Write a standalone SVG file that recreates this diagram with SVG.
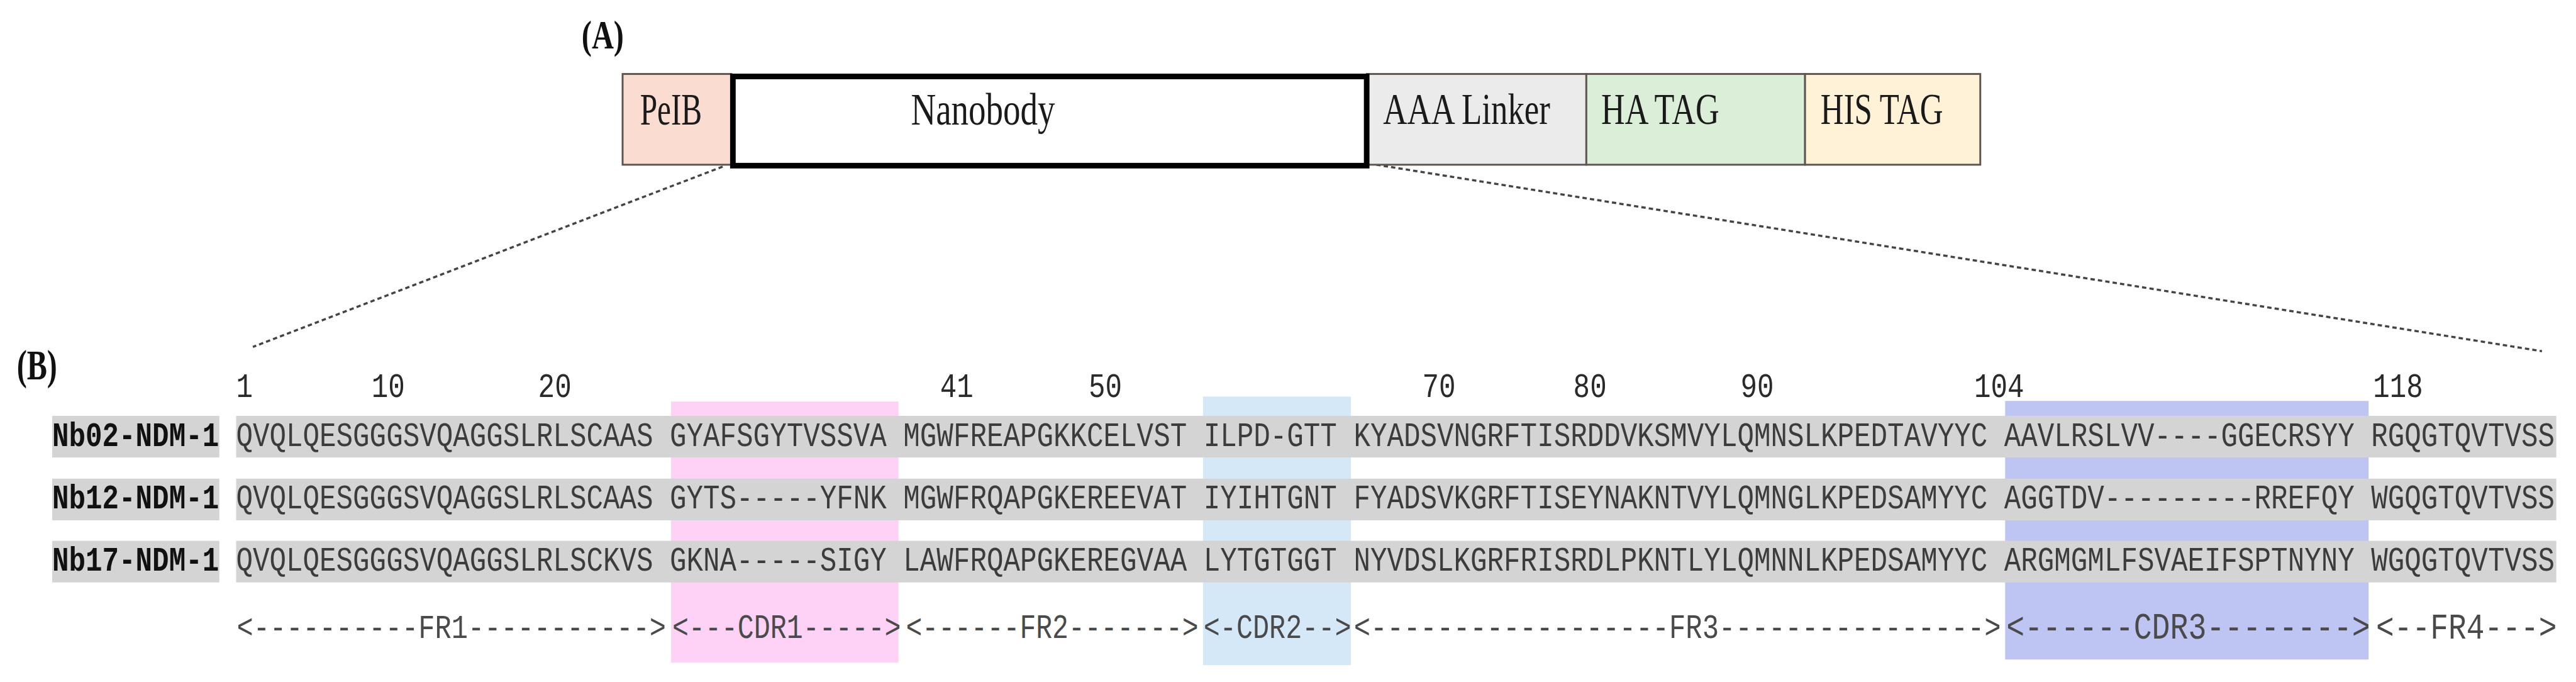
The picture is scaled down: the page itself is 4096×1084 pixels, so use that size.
<svg xmlns="http://www.w3.org/2000/svg" width="4096" height="1084" viewBox="0 0 4096 1084">
<style>
.serif{font-family:"Liberation Serif","Times New Roman",serif;fill:#1a1a1a}
.lbl{font-family:"Liberation Serif","Times New Roman",serif;font-weight:bold;fill:#111}
.seq{font-family:"Liberation Mono","Courier New",monospace;font-size:44.75px;fill:#3c3c3c}
.name{font-family:"Liberation Mono","Courier New",monospace;font-size:44.75px;font-weight:bold;fill:#111}
.num{font-family:"Liberation Mono","Courier New",monospace;font-size:44.75px;fill:#2a2a2a}
.ann{font-family:"Liberation Mono","Courier New",monospace;fill:#4a4a4a}
.band{fill:#d4d4d4}
.seg{stroke:#5f5550;stroke-width:3}
.dot{fill:none;stroke:#444;stroke-width:3.5;stroke-dasharray:7 5}
</style>
<rect width="4096" height="1084" fill="#fff"/>
<g transform="scale(0.988)">
  <text class="lbl" transform="translate(936,78) scale(1,1.327)" font-size="49">(A)</text>
  <text class="lbl" transform="translate(27,610) scale(1,1.39)" font-size="48.8">(B)</text>

  <g id="connectors">
    <line class="dot" x1="1163" y1="268" x2="407" y2="558"/>
    <line class="dot" x1="2215" y1="265" x2="4091" y2="565"/>
  </g>

  <g id="pelb">
    <rect class="seg" x="1002" y="119" width="175" height="146" fill="#fbdcd1"/>
    <text class="serif" transform="translate(1030,200) scale(1,1.443)" font-size="49.9">PeIB</text>
  </g>
  <g id="linker">
    <rect class="seg" x="2200" y="119" width="353" height="146" fill="#ebebeb"/>
    <text class="serif" transform="translate(2226,199) scale(1,1.308)" font-size="53.5">AAA Linker</text>
  </g>
  <g id="hatag">
    <rect class="seg" x="2553" y="119" width="352" height="146" fill="#dbeed8"/>
    <text class="serif" transform="translate(2577,199) scale(1,1.326)" font-size="52.8">HA TAG</text>
  </g>
  <g id="histag">
    <rect class="seg" x="2905" y="119" width="282" height="146" fill="#fff2d6"/>
    <text class="serif" transform="translate(2930,199) scale(1,1.357)" font-size="51.6">HIS TAG</text>
  </g>
  <g id="nanobody">
    <rect x="1179.5" y="123" width="1020" height="143.5" fill="#fff" stroke="#000" stroke-width="9"/>
    <text class="serif" transform="translate(1466,200) scale(1,1.293)" font-size="55.7">Nanobody</text>
  </g>

  <g id="cdr-boxes">
    <rect x="1080" y="646" width="366" height="420" fill="#fdd2f6"/>
    <rect x="1936" y="638" width="238" height="432" fill="#d5e8f7"/>
    <rect x="3227" y="645" width="585" height="416" fill="#bfc5f3"/>
  </g>

  <g id="numbers">
    <text class="num" transform="translate(380,639) scale(1,1.229)">1</text>
    <text class="num" transform="translate(598,639) scale(1,1.229)">10</text>
    <text class="num" transform="translate(866,639) scale(1,1.229)">20</text>
    <text class="num" transform="translate(1513,639) scale(1,1.229)">41</text>
    <text class="num" transform="translate(1752,639) scale(1,1.229)">50</text>
    <text class="num" transform="translate(2289,639) scale(1,1.229)">70</text>
    <text class="num" transform="translate(2532,639) scale(1,1.229)">80</text>
    <text class="num" transform="translate(2801,639) scale(1,1.229)">90</text>
    <text class="num" transform="translate(3177,639) scale(1,1.229)">104</text>
    <text class="num" transform="translate(3819,639) scale(1,1.229)">118</text>
  </g>

  <g id="row-nb02">
    <rect class="band" x="84" y="669" width="269" height="67"/>
    <rect class="band" x="380" y="669" width="3734" height="67"/>
    <text class="name" transform="translate(84,718) scale(1,1.229)">Nb02-NDM-1</text>
    <text class="seq" transform="translate(380,718) scale(1,1.229)">QVQLQESGGGSVQAGGSLRLSCAAS GYAFSGYTVSSVA MGWFREAPGKKCELVST ILPD-GTT KYADSVNGRFTISRDDVKSMVYLQMNSLKPEDTAVYYC AAVLRSLVV----GGECRSYY RGQGTQVTVSS</text>
  </g>
  <g id="row-nb12">
    <rect class="band" x="84" y="770" width="269" height="67"/>
    <rect class="band" x="380" y="770" width="3734" height="67"/>
    <text class="name" transform="translate(84,818) scale(1,1.229)">Nb12-NDM-1</text>
    <text class="seq" transform="translate(380,818) scale(1,1.229)">QVQLQESGGGSVQAGGSLRLSCAAS GYTS-----YFNK MGWFRQAPGKEREEVAT IYIHTGNT FYADSVKGRFTISEYNAKNTVYLQMNGLKPEDSAMYYC AGGTDV---------RREFQY WGQGTQVTVSS</text>
  </g>
  <g id="row-nb17">
    <rect class="band" x="84" y="870" width="269" height="67"/>
    <rect class="band" x="380" y="870" width="3734" height="67"/>
    <text class="name" transform="translate(84,918) scale(1,1.229)">Nb17-NDM-1</text>
    <text class="seq" transform="translate(380,918) scale(1,1.229)">QVQLQESGGGSVQAGGSLRLSCKVS GKNA-----SIGY LAWFRQAPGKEREGVAA LYTGTGGT NYVDSLKGRFRISRDLPKNTLYLQMNNLKPEDSAMYYC ARGMGMLFSVAEIFSPTNYNY WGQGTQVTVSS</text>
  </g>

  <g id="regions">
    <text class="ann" transform="translate(381,1026) scale(1,1.215)" font-size="44.3">&lt;----------FR1-----------&gt;</text>
    <text class="ann" transform="translate(1082,1026) scale(1,1.225)" font-size="43.8">&lt;---CDR1-----&gt;</text>
    <text class="ann" transform="translate(1458,1026) scale(1,1.235)" font-size="43.6">&lt;------FR2-------&gt;</text>
    <text class="ann" transform="translate(1937,1026) scale(1,1.23)" font-size="44">&lt;-CDR2--&gt;</text>
    <text class="ann" transform="translate(2179,1026) scale(1,1.215)" font-size="44.5">&lt;------------------FR3----------------&gt;</text>
    <text class="ann" transform="translate(3229,1027) scale(1,1.215)" font-size="48.8">&lt;------CDR3--------&gt;</text>
    <text class="ann" transform="translate(3824,1027) scale(1,1.215)" font-size="48.5">&lt;--FR4---&gt;</text>
  </g>
</g>
</svg>
